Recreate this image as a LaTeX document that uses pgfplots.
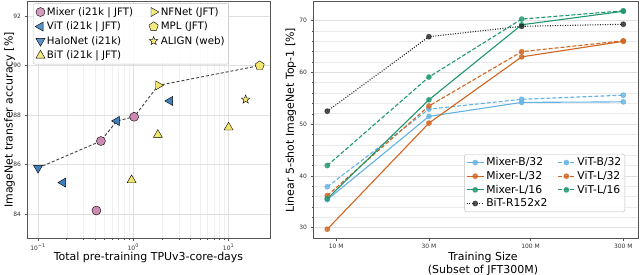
\documentclass[border=0pt]{standalone}
\usepackage{fontspec}
\setmainfont{DejaVu Sans}
\usepackage{pgfplots}
\pgfplotsset{compat=1.18}
\usetikzlibrary{plotmarks}

\definecolor{mixpink}{RGB}{204,138,178}
\definecolor{vitblue}{RGB}{62,128,188}
\definecolor{bityel}{RGB}{242,230,110}
\definecolor{lblue}{RGB}{98,178,228}
\definecolor{orng}{RGB}{210,100,30}
\definecolor{grn}{RGB}{30,150,110}
\definecolor{frame}{RGB}{85,85,85}

\pgfdeclareplotmark{fstar}{%
 \pgfpathmoveto{\pgfpointpolar{90}{\pgfplotmarksize}}%
 \pgfpathlineto{\pgfpointpolar{126}{0.42\pgfplotmarksize}}%
 \pgfpathlineto{\pgfpointpolar{162}{\pgfplotmarksize}}%
 \pgfpathlineto{\pgfpointpolar{198}{0.42\pgfplotmarksize}}%
 \pgfpathlineto{\pgfpointpolar{234}{\pgfplotmarksize}}%
 \pgfpathlineto{\pgfpointpolar{270}{0.42\pgfplotmarksize}}%
 \pgfpathlineto{\pgfpointpolar{306}{\pgfplotmarksize}}%
 \pgfpathlineto{\pgfpointpolar{342}{0.42\pgfplotmarksize}}%
 \pgfpathlineto{\pgfpointpolar{18}{\pgfplotmarksize}}%
 \pgfpathlineto{\pgfpointpolar{54}{0.42\pgfplotmarksize}}%
 \pgfpathclose
 \pgfusepathqfillstroke}

\pgfplotsset{
  common/.style={
    scale only axis,
    height=236bp,
    axis line style={draw=frame, line width=1pt},
    tick align=outside,
    major tick length=2.5bp,
    minor tick length=1.5bp,
    tick style={draw=frame, line width=0.5pt},
    xtick pos=bottom, ytick pos=left,
    tick label style={font=\fontsize{6}{7}\selectfont, text=black!80},
    label style={font=\fontsize{11}{13}\selectfont},
    /pgf/number format/assume math mode=true,
  },
  lmk/.style={only marks, mark options={draw=black!65, line width=0.6pt}},
}

\begin{document}
\begin{tikzpicture}
\useasboundingbox (-27bp,-37bp) rectangle (613bp,238bp);

% ---------------- Left panel ----------------
\begin{axis}[common,
  at={(0bp,0bp)}, anchor=south west,
  width=243bp,
  xmode=log, xmin=0.0766, xmax=27.2,
  ymin=83.03, ymax=92.57,
  xtick={0.1,1,10},
  xticklabels={10\textsuperscript{−1},10\textsuperscript{0},10\textsuperscript{1}},
  ytick={84,86,88,90,92},
  minor y tick num=0,
  grid=both,
  major grid style={draw=black!12, line width=0.5pt},
  minor grid style={draw=black!6, line width=0.4pt},
  xlabel={Total pre-training TPUv3-core-days},
  ylabel={ImageNet transfer accuracy [\%]},
  xlabel style={at={(axis description cs:0.5,-0.083)}, anchor=center},
  ylabel style={at={(axis description cs:-0.072,0.5)}, anchor=center},
  legend columns=2,
  legend cell align=left,
  legend style={at={(axis description cs:0.025,0.995)}, anchor=north west,
    draw=black!25, rounded corners=2pt, fill=white, fill opacity=0.85, text opacity=1,
    font=\fontsize{10.3}{11.5}\selectfont, inner sep=2pt, row sep=1.2pt,
    /tikz/every even column/.append style={column sep=14bp}},
]
\addplot[lmk, mark=*, mark size=4.5bp, mark options={fill=mixpink}] coordinates {(0.457,86.95) (1.02,87.93) (0.41,84.14)};
\addlegendentry{Mixer (i21k | JFT)}
\addplot[lmk, mark=triangle*, mark size=5.2bp, mark options={fill=bityel, rotate=-90}] coordinates {(1.83,89.2)};
\addlegendentry{NFNet (JFT)}
\addplot[lmk, mark=triangle*, mark size=5.2bp, mark options={fill=vitblue, rotate=90}] coordinates {(0.67,87.76) (2.43,88.57) (0.183,85.27)};
\addlegendentry{ViT (i21k | JFT)}
\addplot[lmk, mark=pentagon*, mark size=4.8bp, mark options={fill=bityel}] coordinates {(21.2,90.0)};
\addlegendentry{MPL (JFT)}
\addplot[lmk, mark=triangle*, mark size=5.2bp, mark options={fill=vitblue, rotate=180}] coordinates {(0.1,85.86)};
\addlegendentry{HaloNet (i21k)}
\addplot[lmk, mark=fstar, mark size=4.5bp, mark options={fill=bityel}] coordinates {(15.1,88.63)};
\addlegendentry{ALIGN (web)}
\addplot[lmk, mark=triangle*, mark size=5.2bp, mark options={fill=bityel}] coordinates {(1.81,87.2) (0.96,85.37) (10,87.5)};
\addlegendentry{BiT (i21k | JFT)}
\addplot[forget plot, draw=black!75, line width=0.9pt, dash pattern=on 3bp off 2bp, mark=none]
  coordinates {(0.1,85.86) (0.457,86.95) (0.67,87.76) (1.02,87.93) (1.83,89.2) (21.2,90.0)};
\end{axis}

% ---------------- Right panel ----------------
\begin{axis}[common,
  at={(286bp,0bp)}, anchor=south west,
  width=325bp,
  xmode=log, xmin=7.6, xmax=357,
  ymin=28.0, ymax=73.6,
  xtick={10,30,100,300},
  xticklabels={10 M,30 M,100 M,300 M},
  ytick={30,40,50,60,70},
  minor y tick num=4,
  ymajorgrids, yminorgrids,
  major grid style={draw=black!12, line width=0.6pt},
  minor grid style={draw=black!8, line width=0.6pt},
  xlabel={Training Size\\(Subset of JFT300M)},
  ylabel={Linear 5-shot ImageNet Top-1 [\%]},
  xlabel style={at={(axis description cs:0.523,-0.108)}, anchor=center, align=center},
  ylabel style={at={(axis description cs:-0.068,0.5)}, anchor=center},
  legend columns=2,
  legend cell align=left,
  legend style={at={(axis description cs:0.96,0.11)}, anchor=south east,
    draw=black!25, rounded corners=2pt, fill=white, fill opacity=0.85, text opacity=1,
    font=\fontsize{10.8}{12}\selectfont, inner sep=1.5pt, row sep=0pt,
    /tikz/every even column/.append style={column sep=8bp}},
]
\addplot[color=lblue, line width=1.1pt, mark=*, mark size=2.3bp, mark options={solid, fill opacity=0.75, draw opacity=0.75}] coordinates {(9,35.4) (30,51.5) (90,54.2) (300,54.3)};
\addlegendentry{Mixer-B/32}
\addplot[color=lblue, line width=1.1pt, dash pattern=on 4bp off 2bp, mark=*, mark size=2.3bp, mark options={solid, fill opacity=0.75, draw opacity=0.75}] coordinates {(9,37.9) (30,52.9) (90,54.8) (300,55.6)};
\addlegendentry{ViT-B/32}
\addplot[color=orng, line width=1.1pt, mark=*, mark size=2.3bp, mark options={solid, fill opacity=0.75, draw opacity=0.75}] coordinates {(9,29.7) (30,50.2) (90,63.0) (300,66.0)};
\addlegendentry{Mixer-L/32}
\addplot[color=orng, line width=1.1pt, dash pattern=on 4bp off 2bp, mark=*, mark size=2.3bp, mark options={solid, fill opacity=0.75, draw opacity=0.75}] coordinates {(9,36.2) (30,53.5) (90,64.0) (300,66.1)};
\addlegendentry{ViT-L/32}
\addplot[color=grn, line width=1.1pt, mark=*, mark size=2.3bp, mark options={solid, fill opacity=0.75, draw opacity=0.75}] coordinates {(9,35.6) (30,54.7) (90,69.2) (300,71.8)};
\addlegendentry{Mixer-L/16}
\addplot[color=grn, line width=1.1pt, dash pattern=on 4bp off 2bp, mark=*, mark size=2.3bp, mark options={solid, fill opacity=0.75, draw opacity=0.75}] coordinates {(9,42.0) (30,59.1) (90,70.3) (300,71.9)};
\addlegendentry{ViT-L/16}
\addplot[color=black!85, line width=1.1pt, dash pattern=on 1bp off 1.5bp, mark=*, mark size=2.3bp, mark options={solid, fill opacity=0.75, draw opacity=0.75}] coordinates {(9,52.5) (30,66.9) (90,68.9) (300,69.3)};
\addlegendentry{BiT-R152x2}
\end{axis}
\end{tikzpicture}
\end{document}
